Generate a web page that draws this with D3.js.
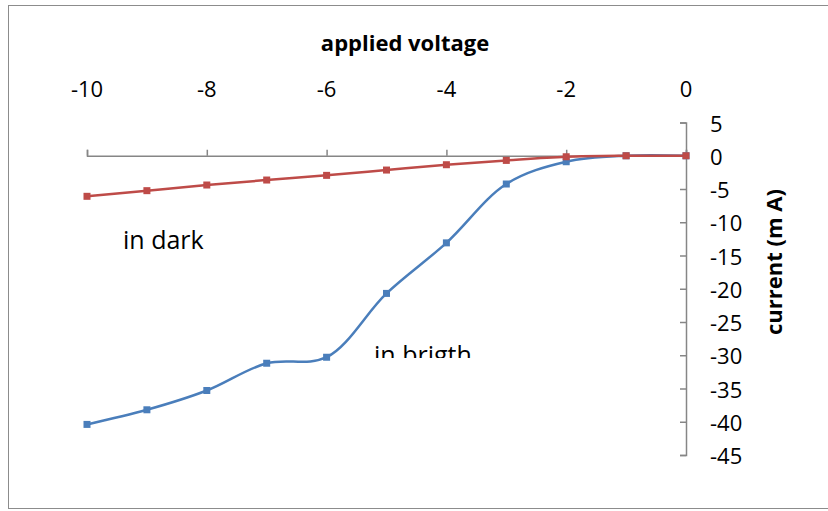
<!DOCTYPE html>
<html>
<head>
<meta charset="utf-8">
<script src="https://cdn.jsdelivr.net/npm/d3@7"></script>
<style>
  body { margin: 0; background: #fff; }
  text { font-family: "Open Sans", "Noto Sans", sans-serif; }
</style>
</head>
<body>
<svg id="the-svg" width="828" height="511"></svg>
<script>
var voltage = [-10, -9, -8, -7, -6, -5, -4, -3, -2, -1, 0];
var bright = [-40.4, -38.2, -35.3, -31.2, -30.3, -20.7, -13.1, -4.25, -0.9, 0, 0];
var dark = [-6.1, -5.25, -4.4, -3.65, -2.95, -2.15, -1.35, -0.7, -0.15, 0, 0];
var xTicks = [-10, -8, -6, -4, -2, 0];
var yTicks = [5, 0, -5, -10, -15, -20, -25, -30, -35, -40, -45];

var theSvg = d3.select("#the-svg");

// outer frame
theSvg.append("rect")
    .attr("x", 8.5).attr("y", 5.5)
    .attr("width", 840).attr("height", 503)
    .attr("fill", "none")
    .attr("stroke", "#8c8c8c")
    .attr("stroke-width", 1);

var x = d3.scaleLinear().domain([-10, 0]).range([87, 686]);
var y = d3.scaleLinear().domain([5, -45]).range([122.5, 455]);

// x axis sits on the zero line, ticks pointing up
var xAxis = theSvg.append("g")
    .attr("transform", "translate(0," + y(0) + ")")
    .call(d3.axisTop(x).tickValues(xTicks).tickSize(6).tickFormat(""));
xAxis.select(".domain").attr("stroke", "#868686").attr("stroke-width", 1.5);
xAxis.selectAll(".tick line").attr("stroke", "#868686").attr("stroke-width", 1.5);

theSvg.selectAll(".xlab").data(xTicks).enter().append("text")
    .attr("class", "xlab")
    .attr("x", function(d) { return x(d); })
    .attr("y", 97)
    .attr("text-anchor", "middle")
    .attr("font-size", 22)
    .text(function(d) { return d; });

// y axis at x = 0, ticks pointing left
var yAxis = theSvg.append("g")
    .attr("transform", "translate(" + x(0) + ",0)")
    .call(d3.axisLeft(y).tickValues(yTicks).tickSize(6).tickFormat(""));
yAxis.select(".domain").attr("stroke", "#868686").attr("stroke-width", 1.5);
yAxis.selectAll(".tick line").attr("stroke", "#868686").attr("stroke-width", 1.5);

theSvg.selectAll(".ylab").data(yTicks).enter().append("text")
    .attr("class", "ylab")
    .attr("x", 710)
    .attr("y", function(d) { return y(d) + 9; })
    .attr("font-size", 22)
    .text(function(d) { return d; });

// titles
theSvg.append("text")
    .attr("x", 405).attr("y", 51)
    .attr("text-anchor", "middle")
    .attr("font-size", 22).attr("font-weight", "bold")
    .text("applied voltage");

theSvg.append("text")
    .attr("transform", "translate(782,262) rotate(-90)")
    .attr("text-anchor", "middle")
    .attr("font-size", 22).attr("font-weight", "bold")
    .text("current (m A)");

// series
var series = [
    { name: "bright", values: bright, color: "#4A7EBB" },
    { name: "dark", values: dark, color: "#BE4B48" }
];

var line = d3.line()
    .x(function(d) { return x(d[0]); })
    .y(function(d) { return y(d[1]); })
    .curve(d3.curveCatmullRom.alpha(0.5));

series.forEach(function(s) {
    var pts = voltage.map(function(v, i) { return [v, s.values[i]]; });
    theSvg.append("path")
        .datum(pts)
        .attr("fill", "none")
        .attr("stroke", s.color)
        .attr("stroke-width", 2.5)
        .attr("d", line);
    theSvg.selectAll(".pt-" + s.name).data(pts).enter().append("rect")
        .attr("class", "pt-" + s.name)
        .attr("x", function(d) { return x(d[0]) - 3.5; })
        .attr("y", function(d) { return y(d[1]) - 3.5; })
        .attr("width", 7).attr("height", 7)
        .attr("fill", s.color);
});

// labels
theSvg.append("text")
    .attr("x", 123).attr("y", 249)
    .attr("font-size", 25)
    .text("in dark");

theSvg.append("clipPath").attr("id", "lblclip")
    .append("rect").attr("x", 360).attr("y", 330).attr("width", 140).attr("height", 28);
theSvg.append("text")
    .attr("clip-path", "url(#lblclip)")
    .attr("x", 374).attr("y", 364)
    .attr("font-size", 25)
    .text("in brigth");
</script>
</body>
</html>
